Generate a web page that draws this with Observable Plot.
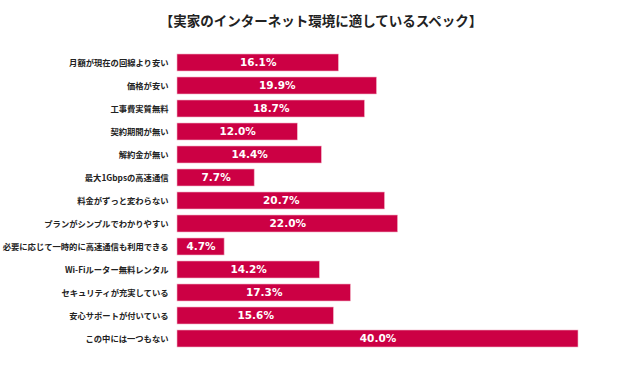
<!DOCTYPE html>
<html><head><meta charset="utf-8">
<script src="https://cdn.jsdelivr.net/npm/d3@7"></script>
<script src="https://cdn.jsdelivr.net/npm/@observablehq/plot@0.6"></script>
<style>
body{margin:0;background:#fff;}
#title{height:38px;line-height:40px;text-align:center;font-family:"Noto Sans CJK JP";font-weight:bold;font-size:13.5px;color:#222;padding-left:2px;}
</style></head><body>
<div id="title">【実家のインターネット環境に適しているスペック】</div>
<div id="chart"></div>
<script>
const categories = ["月額が現在の回線より安い","価格が安い","工事費実質無料","契約期間が無い","解約金が無い","最大1Gbpsの高速通信","料金がずっと変わらない","プランがシンプルでわかりやすい","必要に応じて一時的に高速通信も利用できる","Wi-Fiルーター無料レンタル","セキュリティが充実している","安心サポートが付いている","この中には一つもない"];
const values = [16.1,19.9,18.7,12.0,14.4,7.7,20.7,22.0,4.7,14.2,17.3,15.6,40.0];
const data = categories.map((c,i)=>({cat:c, v:values[i]}));
const chart = Plot.plot({
  width:640, height:333,
  marginLeft:177, marginRight:62, marginTop:7, marginBottom:15,
  x:{domain:[0,40], axis:null},
  y:{domain:categories, padding:0.2735, label:null, tickSize:0, tickPadding:9},
  style:{fontFamily:"Noto Sans CJK JP", fontSize:"8.3px", fontWeight:"bold", color:"#222"},
  marks:[
    Plot.ruleX([0],{stroke:"#e4e4e4", strokeWidth:1, dx:-1, y1:0, y2:333}),
    Plot.barX(data,{y:"cat", x:"v", fill:"#cc0044", stroke:"#f2b3c6", strokeWidth:0.6}),
    Plot.text(data,{y:"cat", x:d=>d.v/2, text:d=>d.v.toFixed(1)+"%", fill:"white", fontFamily:"DejaVu Sans", fontWeight:"bold", fontSize:10.5}),
    Plot.axisY({tickSize:0, tickPadding:9, fontSize:8.3, fontWeight:"bold", fill:"#222", label:null})
  ]
});
document.getElementById("chart").appendChild(chart);
</script>
</body></html>
